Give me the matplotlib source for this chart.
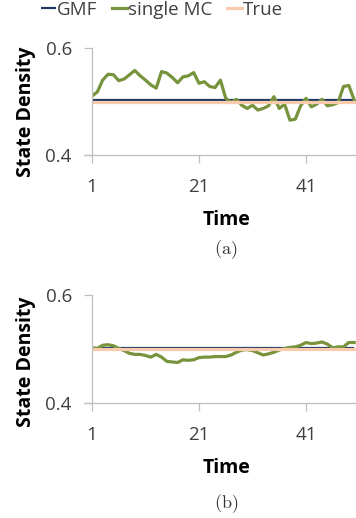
import numpy as np
import matplotlib
matplotlib.use("Agg")
import matplotlib.pyplot as plt

plt.rcParams["font.family"] = ["Open Sans", "DejaVu Sans"]
plt.rcParams["mathtext.fontset"] = "cm"

time = np.arange(1, 51)

# run (a): single Monte Carlo run drifts well above 0.5 early on
mc_a = [0.510, 0.518, 0.540, 0.551, 0.550, 0.539, 0.542, 0.550, 0.558, 0.548,
        0.540, 0.531, 0.525, 0.556, 0.553, 0.545, 0.535, 0.546, 0.548, 0.554,
        0.534, 0.537, 0.528, 0.526, 0.540, 0.506, 0.498, 0.504, 0.493, 0.487,
        0.493, 0.484, 0.487, 0.492, 0.509, 0.487, 0.495, 0.465, 0.467, 0.492,
        0.506, 0.490, 0.495, 0.504, 0.492, 0.494, 0.498, 0.528, 0.530, 0.503]
# run (b)
mc_b = [0.502, 0.501, 0.507, 0.508, 0.506, 0.501, 0.497, 0.492, 0.490, 0.490,
        0.488, 0.485, 0.490, 0.485, 0.477, 0.476, 0.475, 0.480, 0.479, 0.480,
        0.484, 0.485, 0.485, 0.486, 0.486, 0.486, 0.489, 0.494, 0.498, 0.499,
        0.497, 0.493, 0.489, 0.491, 0.494, 0.498, 0.501, 0.503, 0.504, 0.507,
        0.512, 0.510, 0.511, 0.513, 0.509, 0.502, 0.504, 0.504, 0.512, 0.512]
gmf_a = [0.502] * 50
gmf_b = [0.501] * 50
true_val = [0.5] * 50

panels = [("(a)", mc_a, gmf_a), ("(b)", mc_b, gmf_b)]

W, H = 356, 518
fig = plt.figure(figsize=(W / 100, H / 100), dpi=100)

grey = "#BFBFBF"
tick_grey = "#404040"

# pixel rows: (top of plot, bottom of plot, axis title, caption, ylabel centre)
rows = [(48, 155, 220, 250, 112), (295, 403, 468, 504, 362)]
left_px = 92

for (cap, mc, gmf), (top, bot, ttl_y, cap_y, ylab_y) in zip(panels, rows):
    ax = fig.add_axes([left_px / W, 1 - bot / H, (W - left_px) / W, (bot - top) / H])
    ax.plot(time, gmf, color="#1F3864", lw=1.6, label="GMF", solid_capstyle="butt")
    ax.plot(time, mc, color="#77933C", lw=2.3, label="single MC", solid_joinstyle="round")
    ax.plot(time, true_val, color="#F8CBAD", lw=2.3, label="True")
    ax.set_xlim(1, 1 + (W - left_px) / 5.35)
    ax.set_ylim(0.4, 0.6)
    ax.set_yticks([0.4, 0.6])
    ax.set_yticklabels(["0.4", "0.6"])
    ax.set_xticks([1, 21, 41])
    for s in ["top", "right"]:
        ax.spines[s].set_visible(False)
    for s in ["left", "bottom"]:
        ax.spines[s].set_color(grey)
        ax.spines[s].set_linewidth(0.9)
    ax.spines["bottom"].set_bounds(1 - 8 / 5.35, ax.get_xlim()[1])
    ax.tick_params(axis="both", colors=grey, length=5.5, width=0.9, direction="out",
                   labelcolor=tick_grey, labelsize=13.5)
    ax.tick_params(axis="y", pad=9)
    ax.tick_params(axis="x", pad=11)
    ax.patch.set_visible(False)

    fig.text(227 / W, 1 - ttl_y / H, "Time", ha="center", va="center",
             fontsize=14, fontweight="bold", color="black")
    fig.text(226 / W, 1 - cap_y / H, r"$\mathrm{" + cap + "}$", ha="center", va="center",
             fontsize=13, color="#333333")
    fig.text(26 / W, 1 - ylab_y / H, "State Density", ha="center", va="center",
             rotation=90, fontsize=14, fontweight="bold", color="black")

    if cap == "(a)":
        handles, labels = ax.get_legend_handles_labels()

fig.legend(handles, labels, loc="center", bbox_to_anchor=(162 / W, 1 - 10 / H),
           ncol=3, frameon=False, fontsize=13.5, handlelength=0.8, handletextpad=0.05,
           columnspacing=0.8, labelcolor=tick_grey, borderpad=0, borderaxespad=0)

fig.savefig("out.png", dpi=100)
